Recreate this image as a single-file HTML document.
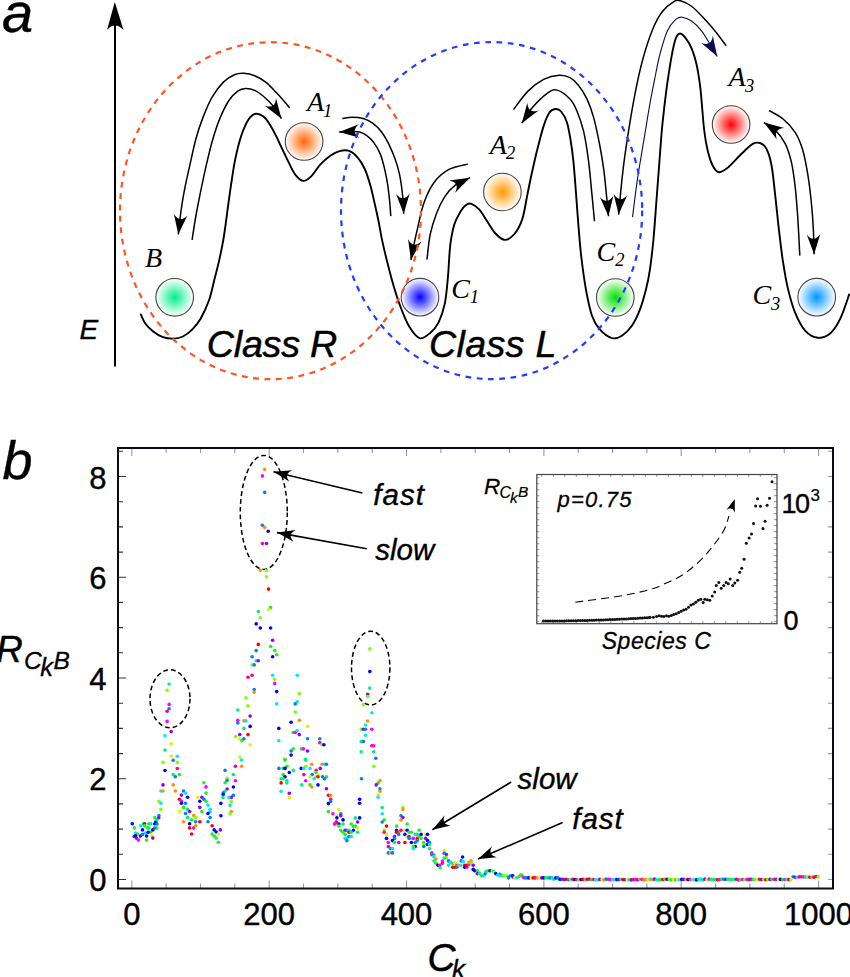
<!DOCTYPE html>
<html><head><meta charset="utf-8"><style>
html,body{margin:0;padding:0;background:#fff;width:850px;height:977px;overflow:hidden;position:relative}
</style></head><body>
<svg width="850" height="977" viewBox="0 0 850 977" style="position:absolute;left:0;top:0">
<defs>
<radialGradient id="gB"><stop offset="0" stop-color="#00f08a"/><stop offset="1" stop-color="#00f08a" stop-opacity="0"/></radialGradient>
<radialGradient id="gA1"><stop offset="0" stop-color="#ff6600"/><stop offset="1" stop-color="#ff6600" stop-opacity="0"/></radialGradient>
<radialGradient id="gC1"><stop offset="0" stop-color="#0000ff"/><stop offset="1" stop-color="#0000ff" stop-opacity="0"/></radialGradient>
<radialGradient id="gA2"><stop offset="0" stop-color="#ff9900"/><stop offset="1" stop-color="#ff9900" stop-opacity="0"/></radialGradient>
<radialGradient id="gC2"><stop offset="0" stop-color="#00e000"/><stop offset="1" stop-color="#00e000" stop-opacity="0"/></radialGradient>
<radialGradient id="gA3"><stop offset="0" stop-color="#ff0000"/><stop offset="1" stop-color="#ff0000" stop-opacity="0"/></radialGradient>
<radialGradient id="gC3"><stop offset="0" stop-color="#0096ff"/><stop offset="1" stop-color="#0096ff" stop-opacity="0"/></radialGradient>
</defs>
<line x1="115" y1="366.5" x2="115" y2="22" stroke="#000" stroke-width="2"/>
<path d="M114.8,1.9 L123.5,29.9 Q114.8,21 107,29.9 Z" fill="#000"/>
<path d="M140.8,314.4 C141.6,315.9 143.2,320.6 145.3,323.5 C147.4,326.4 150.6,329.5 153.5,331.8 C156.4,334.1 159.6,336.0 162.9,337.1 C166.2,338.2 170.2,338.7 173.5,338.6 C176.8,338.5 179.8,338.0 182.9,336.5 C186.1,335.0 189.5,332.3 192.4,329.4 C195.3,326.4 197.8,323.7 200.6,318.8 C203.4,313.9 206.8,306.6 209.2,299.8 C211.5,293.1 213.0,285.0 214.7,278.3 C216.4,271.6 217.9,266.2 219.3,259.9 C220.7,253.6 222.1,246.6 223.2,240.5 C224.3,234.4 224.9,229.4 225.8,223.1 C226.7,216.8 227.6,209.1 228.5,202.8 C229.4,196.5 229.9,192.4 231.0,185.2 C232.1,178.0 233.5,167.5 235.2,159.4 C236.9,151.3 238.8,143.2 241.0,136.5 C243.2,129.8 246.0,123.3 248.5,119.5 C251.0,115.7 253.3,114.3 255.8,113.8 C258.3,113.3 261.2,114.8 263.5,116.6 C265.8,118.4 267.7,121.3 269.8,124.6 C271.9,127.9 274.1,132.0 276.2,136.2 C278.3,140.3 280.3,145.0 282.5,149.5 C284.7,154.0 287.0,159.1 289.2,163.4 C291.4,167.7 293.2,172.2 295.6,175.1 C298.0,178.0 300.8,180.7 303.4,180.9 C306.0,181.1 308.4,179.1 311.2,176.4 C314.0,173.7 317.0,168.2 320.2,164.7 C323.4,161.2 327.4,157.9 330.6,155.6 C333.8,153.3 336.6,151.9 339.6,151.1 C342.6,150.3 345.4,149.7 348.4,150.7 C351.4,151.7 354.8,154.2 357.5,157.3 C360.2,160.4 362.7,164.3 364.8,169.0 C366.9,173.7 368.7,179.6 370.4,185.6 C372.1,191.6 373.6,198.9 375.0,205.0 C376.4,211.1 377.5,216.1 378.7,222.0 C379.9,227.9 380.6,233.3 382.2,240.6 C383.8,247.9 386.1,257.8 388.2,265.8 C390.2,273.9 392.4,281.9 394.5,288.9 C396.6,295.9 398.4,301.4 400.8,307.7 C403.2,314.0 406.1,321.5 409.2,326.6 C412.3,331.7 416.2,337.1 419.7,338.2 C423.2,339.2 427.0,335.5 430.2,332.9 C433.4,330.3 436.2,327.3 438.6,322.4 C441.0,317.5 443.2,311.3 444.8,303.6 C446.4,295.9 447.1,286.1 448.0,276.3 C448.9,266.5 449.2,253.4 450.3,244.8 C451.4,236.2 452.6,230.1 454.3,224.5 C456.0,218.9 458.6,214.8 460.5,211.5 C462.4,208.2 464.2,206.3 466.0,205.0 C467.8,203.7 469.3,203.0 471.5,203.8 C473.7,204.6 476.8,206.8 479.4,209.7 C482.0,212.6 484.6,217.5 487.2,221.4 C489.8,225.3 492.1,229.9 495.0,233.0 C497.9,236.1 501.5,239.7 504.7,239.9 C507.9,240.1 511.5,237.4 514.4,234.0 C517.3,230.6 520.1,225.7 522.2,219.4 C524.3,213.1 525.5,203.9 527.1,196.1 C528.7,188.3 530.1,180.9 531.9,172.8 C533.7,164.7 535.8,155.3 537.8,147.5 C539.8,139.7 541.7,131.9 543.6,126.1 C545.5,120.3 547.5,115.3 549.4,112.5 C551.3,109.7 553.3,109.2 555.3,109.0 C557.2,108.8 559.2,109.3 561.1,111.5 C563.0,113.7 565.4,117.6 566.9,122.2 C568.4,126.8 569.3,132.5 570.4,139.0 C571.5,145.5 572.5,152.6 573.4,161.4 C574.3,170.2 575.1,181.2 575.9,191.8 C576.7,202.4 577.5,214.1 578.4,225.0 C579.3,235.9 580.0,246.2 581.3,257.0 C582.6,267.8 584.2,280.0 586.0,289.8 C587.8,299.6 589.7,309.1 592.0,315.7 C594.3,322.3 596.7,326.0 600.0,329.7 C603.3,333.4 608.2,337.1 611.9,338.1 C615.5,339.1 618.6,337.8 621.9,335.7 C625.2,333.6 628.9,330.0 631.9,325.7 C634.9,321.4 637.6,315.7 639.9,309.7 C642.2,303.7 644.2,296.4 645.9,289.8 C647.6,283.2 648.6,278.1 649.9,269.8 C651.1,261.5 652.3,251.6 653.4,240.0 C654.5,228.4 655.6,211.7 656.5,200.0 C657.4,188.3 657.9,181.2 658.8,170.0 C659.6,158.8 660.7,143.6 661.6,133.0 C662.5,122.4 663.4,114.9 664.4,106.4 C665.4,97.9 666.3,90.1 667.5,81.9 C668.7,73.7 670.1,64.4 671.4,57.3 C672.7,50.2 674.1,43.2 675.5,39.3 C676.9,35.3 678.0,33.9 679.6,33.6 C681.2,33.3 683.2,35.1 685.3,37.7 C687.3,40.3 690.0,44.5 691.9,49.1 C693.8,53.7 695.4,59.5 696.8,65.5 C698.1,71.5 699.1,78.5 700.0,85.1 C700.9,91.6 701.2,97.1 701.9,104.8 C702.6,112.5 703.3,123.4 704.3,131.0 C705.2,138.6 706.2,144.5 707.6,150.2 C709.0,155.9 710.6,161.5 712.5,165.2 C714.4,168.9 716.3,171.8 718.8,172.2 C721.3,172.6 724.0,170.5 727.6,167.7 C731.2,164.9 735.9,159.2 740.1,155.2 C744.3,151.2 749.4,145.9 752.7,143.9 C756.1,141.9 757.9,142.3 760.2,143.1 C762.5,143.9 764.6,145.2 766.5,148.9 C768.4,152.6 770.0,157.5 771.5,165.2 C773.0,172.9 774.0,184.4 775.2,195.3 C776.5,206.2 777.7,219.5 779.0,230.4 C780.3,241.3 781.3,250.9 782.8,260.5 C784.3,270.1 785.7,279.3 787.8,288.1 C789.9,296.9 792.4,306.1 795.3,313.2 C798.2,320.3 801.5,326.7 805.3,330.8 C809.1,334.9 813.7,337.4 817.9,337.8 C822.1,338.2 826.6,336.6 830.4,333.3 C834.2,330.0 837.4,324.7 840.5,318.2 C843.6,311.7 847.8,298.4 849.2,294.4" fill="none" stroke="#000" stroke-width="1.9" stroke-linecap="round"/>
<path d="M178.3,234.5 C178.8,230.6 179.9,218.6 181.0,211.0 C182.1,203.4 183.1,196.9 184.7,188.9 C186.2,180.9 188.5,171.4 190.3,163.1 C192.2,154.8 193.7,146.9 195.8,139.2 C197.9,131.5 200.3,124.2 203.1,117.1 C205.8,110.0 208.9,102.6 212.3,96.8 C215.7,91.0 219.7,85.8 223.4,82.1 C227.1,78.4 231.0,76.2 234.4,74.7 C237.8,73.2 240.3,73.1 243.7,73.3 C247.1,73.5 251.0,74.2 254.7,75.7 C258.4,77.2 262.0,79.2 265.7,82.1 C269.4,85.0 272.8,88.8 276.8,93.1 C280.8,97.4 287.6,105.4 289.7,107.9" fill="none" stroke="#000" stroke-width="1.5"/><path d="M0,0 L-20.0,-6.8 Q-11.0,0 -20.0,6.8 Z" fill="#000" transform="translate(178.3,234.5) rotate(96.6)"/>
<path d="M192.1,239.9 C192.7,236.0 194.4,224.4 195.8,216.5 C197.2,208.6 198.7,200.9 200.4,192.6 C202.1,184.3 203.9,175.4 205.9,166.8 C207.9,158.2 210.0,149.0 212.3,141.0 C214.6,133.0 216.9,125.7 219.7,118.9 C222.5,112.2 225.8,105.2 228.9,100.5 C232.0,95.8 235.3,92.9 238.1,90.9 C240.9,88.9 242.7,88.6 245.5,88.5 C248.3,88.4 251.6,89.0 254.7,90.4 C257.8,91.8 260.8,94.2 263.9,96.8 C267.0,99.4 270.2,102.4 273.1,106.0 C276.0,109.6 280.0,116.5 281.4,118.6" fill="none" stroke="#000" stroke-width="1.5"/><path d="M0,0 L-20.0,-6.8 Q-11.0,0 -20.0,6.8 Z" fill="#000" transform="translate(281.4,118.6) rotate(56.6)"/>
<path d="M342.3,118.5 C343.9,118.3 348.6,117.3 352.1,117.3 C355.6,117.3 359.7,117.5 363.2,118.5 C366.7,119.5 369.9,121.2 373.0,123.4 C376.1,125.7 379.0,128.5 381.6,132.0 C384.2,135.5 386.6,139.8 388.9,144.3 C391.1,148.8 393.4,154.1 395.1,159.0 C396.9,163.9 398.3,168.9 399.4,173.8 C400.5,178.7 401.2,183.8 401.8,188.5 C402.4,193.2 402.9,197.8 403.2,202.0 C403.5,206.2 403.6,211.8 403.7,213.7" fill="none" stroke="#000" stroke-width="1.5"/><path d="M0,0 L-20.0,-6.8 Q-11.0,0 -20.0,6.8 Z" fill="#000" transform="translate(403.7,213.7) rotate(87.6)"/>
<path d="M339.2,132.0 C341.0,131.9 346.6,131.5 350.0,131.5 C353.4,131.5 356.7,131.3 359.5,132.0 C362.3,132.7 364.4,133.8 366.8,135.7 C369.2,137.5 371.9,140.0 374.2,143.1 C376.4,146.2 378.6,149.8 380.3,154.1 C382.0,158.4 383.4,163.8 384.6,168.9 C385.8,174.0 386.9,179.5 387.7,184.8 C388.5,190.1 389.1,195.6 389.6,200.8 C390.1,206.0 390.6,213.6 390.8,216.1" fill="none" stroke="#000" stroke-width="1.5"/><path d="M0,0 L-20.0,-6.8 Q-11.0,0 -20.0,6.8 Z" fill="#000" transform="translate(339.2,132.0) rotate(177.3)"/>
<path d="M467.9,164.1 C464.8,165.0 454.6,166.4 449.0,169.4 C443.4,172.4 438.6,176.4 434.4,182.0 C430.2,187.6 426.7,195.2 423.9,202.9 C421.1,210.6 419.4,220.8 417.6,228.1 C415.9,235.4 414.5,241.7 413.4,247.0 C412.3,252.3 411.3,257.8 410.9,259.9" fill="none" stroke="#000" stroke-width="1.5"/><path d="M0,0 L-20.0,-6.8 Q-11.0,0 -20.0,6.8 Z" fill="#000" transform="translate(410.9,259.9) rotate(101.0)"/>
<path d="M427.0,259.5 C427.5,255.3 428.6,242.1 430.2,234.4 C431.8,226.7 434.1,219.7 436.5,213.4 C438.9,207.1 441.7,201.3 444.8,196.6 C447.9,191.9 451.1,188.2 455.3,185.1 C459.5,181.9 467.6,178.9 470.0,177.7" fill="none" stroke="#000" stroke-width="1.5"/><path d="M0,0 L-20.0,-6.8 Q-11.0,0 -20.0,6.8 Z" fill="#000" transform="translate(470.0,177.7) rotate(-26.7)"/>
<path d="M513.5,109.6 C515.9,106.5 523.0,96.1 528.0,91.1 C533.0,86.1 538.4,82.1 543.6,79.4 C548.8,76.8 554.8,75.5 559.2,75.2 C563.6,74.9 566.8,76.0 570.0,77.7 C573.2,79.4 575.6,81.8 578.4,85.3 C581.2,88.8 584.4,93.6 586.9,98.9 C589.4,104.2 591.5,109.8 593.6,117.4 C595.7,125.0 597.9,135.8 599.6,144.5 C601.3,153.2 602.7,161.7 603.8,169.8 C604.9,178.0 605.5,185.7 606.3,193.4 C607.1,201.2 608.1,212.5 608.5,216.3" fill="none" stroke="#000" stroke-width="1.5"/><path d="M0,0 L-20.0,-6.8 Q-11.0,0 -20.0,6.8 Z" fill="#000" transform="translate(608.5,216.3) rotate(84.5)"/>
<path d="M521.8,123.2 C523.5,120.7 527.7,113.0 532.0,108.0 C536.3,103.0 543.3,96.1 547.5,93.1 C551.7,90.1 553.5,89.1 557.2,90.1 C561.0,91.1 566.7,95.5 570.0,98.9 C573.3,102.3 574.5,105.4 576.8,110.7 C579.0,116.0 581.5,122.5 583.5,130.9 C585.5,139.3 587.2,150.7 588.6,161.4 C590.0,172.1 591.0,185.1 592.0,195.1 C593.0,205.1 594.1,216.9 594.5,221.3" fill="none" stroke="#000" stroke-width="1.5"/><path d="M0,0 L-20.0,-6.8 Q-11.0,0 -20.0,6.8 Z" fill="#000" transform="translate(521.8,123.2) rotate(123.9)"/>
<path d="M618.6,214.6 C619.0,210.8 619.8,200.7 620.7,191.8 C621.6,182.9 622.7,172.1 624.1,161.4 C625.5,150.7 627.3,138.9 629.1,127.6 C630.9,116.3 632.8,105.1 635.0,93.8 C637.2,82.5 639.7,70.7 642.6,60.0 C645.5,49.3 649.3,37.6 652.6,29.5 C655.9,21.4 658.9,16.1 662.4,11.5 C665.9,6.9 670.9,3.4 673.9,1.6 C676.9,-0.2 677.4,-0.0 680.4,0.8 C683.4,1.6 687.8,3.4 691.9,6.5 C696.0,9.6 700.9,15.2 705.0,19.6 C709.1,24.0 712.9,28.3 716.4,32.7 C719.9,37.1 724.6,43.6 726.2,45.8" fill="none" stroke="#000" stroke-width="1.5"/><path d="M0,0 L-20.0,-6.8 Q-11.0,0 -20.0,6.8 Z" fill="#000" transform="translate(618.6,214.6) rotate(95.3)"/>
<path d="M632.5,217.1 C633.4,210.6 635.6,191.4 637.6,178.2 C639.6,165.0 642.2,150.4 644.3,137.7 C646.4,125.0 648.3,112.7 650.2,102.2 C652.1,91.8 653.9,83.0 655.5,75.0 C657.1,67.0 658.0,61.3 660.0,54.0 C662.0,46.7 664.7,36.8 667.3,31.1 C669.9,25.4 673.0,21.9 675.5,19.6 C678.0,17.3 679.3,16.9 682.0,17.2 C684.7,17.5 688.6,19.0 691.9,21.3 C695.2,23.6 698.7,27.3 701.7,31.1 C704.7,34.9 707.3,40.0 709.9,44.2 C712.5,48.4 716.0,54.5 717.2,56.5" fill="none" stroke="#0b0b50" stroke-width="1.1"/><path d="M0,0 L-20.0,-6.8 Q-11.0,0 -20.0,6.8 Z" fill="#0b0b50" transform="translate(717.2,56.5) rotate(59.3)"/>
<path d="M769.0,110.5 C771.3,111.9 778.4,115.1 782.8,118.8 C787.2,122.5 792.0,127.4 795.3,132.6 C798.6,137.8 800.7,143.1 802.8,150.2 C804.9,157.3 806.4,166.0 807.9,175.2 C809.4,184.4 810.7,196.1 811.6,205.3 C812.5,214.5 813.0,222.2 813.4,230.4 C813.8,238.6 814.0,250.3 814.1,254.3" fill="none" stroke="#000" stroke-width="1.5"/><path d="M0,0 L-20.0,-6.8 Q-11.0,0 -20.0,6.8 Z" fill="#000" transform="translate(814.1,254.3) rotate(88.3)"/>
<path d="M764.0,122.6 C765.9,123.8 771.7,126.5 775.2,130.1 C778.8,133.7 782.6,138.5 785.3,143.9 C788.0,149.3 789.8,155.4 791.5,162.7 C793.2,170.0 794.2,178.6 795.3,187.8 C796.3,197.0 797.0,206.6 797.8,217.9 C798.5,229.2 799.5,249.2 799.8,255.5" fill="none" stroke="#000" stroke-width="1.5"/><path d="M0,0 L-20.0,-6.8 Q-11.0,0 -20.0,6.8 Z" fill="#000" transform="translate(764.0,122.6) rotate(-146.2)"/>
<circle cx="174.7" cy="297.3" r="18.8" fill="#fff"/>
<circle cx="174.7" cy="297.3" r="18.8" fill="url(#gB)" stroke="#444" stroke-width="1.1"/>
<circle cx="304.1" cy="141.5" r="18.8" fill="#fff"/>
<circle cx="304.1" cy="141.5" r="18.8" fill="url(#gA1)" stroke="#444" stroke-width="1.1"/>
<circle cx="420.0" cy="297.2" r="18.8" fill="#fff"/>
<circle cx="420.0" cy="297.2" r="18.8" fill="url(#gC1)" stroke="#444" stroke-width="1.1"/>
<circle cx="502.4" cy="192.0" r="18.8" fill="#fff"/>
<circle cx="502.4" cy="192.0" r="18.8" fill="url(#gA2)" stroke="#444" stroke-width="1.1"/>
<circle cx="615.3" cy="297.5" r="18.8" fill="#fff"/>
<circle cx="615.3" cy="297.5" r="18.8" fill="url(#gC2)" stroke="#444" stroke-width="1.1"/>
<circle cx="731.1" cy="124.5" r="18.8" fill="#fff"/>
<circle cx="731.1" cy="124.5" r="18.8" fill="url(#gA3)" stroke="#444" stroke-width="1.1"/>
<circle cx="816.7" cy="297.2" r="18.8" fill="#fff"/>
<circle cx="816.7" cy="297.2" r="18.8" fill="url(#gC3)" stroke="#444" stroke-width="1.1"/>
<ellipse cx="270.5" cy="210.7" rx="150.5" ry="168.5" fill="none" stroke="#ff5522" stroke-width="2.2" stroke-dasharray="5.9,5.5"/>
<ellipse cx="491.6" cy="210.6" rx="150.6" ry="168.5" fill="none" stroke="#1f3cff" stroke-width="2.2" stroke-dasharray="5.7,5.6"/>
<text x="144.9" y="266.8" font-family="Liberation Serif" font-style="italic" font-size="28.0">B</text>
<text x="307.1" y="110.9" font-family="Liberation Serif" font-style="italic" font-size="28.0">A</text>
<text x="451.2" y="297.7" font-family="Liberation Serif" font-style="italic" font-size="28.0">C</text>
<text x="489.7" y="153.9" font-family="Liberation Serif" font-style="italic" font-size="28.0">A</text>
<text x="596.6" y="260.8" font-family="Liberation Serif" font-style="italic" font-size="28.0">C</text>
<text x="728.6" y="86.1" font-family="Liberation Serif" font-style="italic" font-size="28.0">A</text>
<text x="752.4" y="304.3" font-family="Liberation Serif" font-style="italic" font-size="28.0">C</text>
<text x="323.1" y="116.7" font-family="Liberation Serif" font-style="italic" font-size="18.5">1</text>
<text x="469.8" y="302.9" font-family="Liberation Serif" font-style="italic" font-size="18.5">1</text>
<text x="505.9" y="158.8" font-family="Liberation Serif" font-style="italic" font-size="18.5">2</text>
<text x="615.3" y="265.7" font-family="Liberation Serif" font-style="italic" font-size="18.5">2</text>
<text x="745.1" y="91.7" font-family="Liberation Serif" font-style="italic" font-size="18.5">3</text>
<text x="771.1" y="309.5" font-family="Liberation Serif" font-style="italic" font-size="18.5">3</text>
<text stroke="#000" stroke-width="0.35" x="2" y="32.3" font-family="Liberation Sans" font-style="italic" font-size="56">a</text>
<text stroke="#000" stroke-width="0.36" x="79.5" y="339" font-family="Liberation Sans" font-style="italic" font-size="28">E</text>
<text stroke="#000" stroke-width="0.49" x="206.8" y="357" font-family="Liberation Sans" font-style="italic" font-size="37.7" letter-spacing="-0.25">Class R</text>
<text stroke="#000" stroke-width="0.49" x="429" y="357" font-family="Liberation Sans" font-style="italic" font-size="37.7" letter-spacing="0.3">Class L</text>
<text stroke="#000" stroke-width="0.35" x="2.5" y="479.4" font-family="Liberation Sans" font-style="italic" font-size="54">b</text>
<path d="M131.8,888.5v-8 M131.8,448.0v8 M166.1,888.5v-5 M166.1,448.0v5 M200.5,888.5v-5 M200.5,448.0v5 M234.8,888.5v-5 M234.8,448.0v5 M269.2,888.5v-8 M269.2,448.0v8 M303.5,888.5v-5 M303.5,448.0v5 M337.8,888.5v-5 M337.8,448.0v5 M372.2,888.5v-5 M372.2,448.0v5 M406.5,888.5v-8 M406.5,448.0v8 M440.9,888.5v-5 M440.9,448.0v5 M475.2,888.5v-5 M475.2,448.0v5 M509.5,888.5v-5 M509.5,448.0v5 M543.9,888.5v-8 M543.9,448.0v8 M578.2,888.5v-5 M578.2,448.0v5 M612.6,888.5v-5 M612.6,448.0v5 M646.9,888.5v-5 M646.9,448.0v5 M681.2,888.5v-8 M681.2,448.0v8 M715.6,888.5v-5 M715.6,448.0v5 M749.9,888.5v-5 M749.9,448.0v5 M784.3,888.5v-5 M784.3,448.0v5 M818.6,888.5v-8 M818.6,448.0v8 M833.0,879.5h-5 M833.0,854.3h-5 M833.0,829.1h-5 M833.0,803.9h-5 M833.0,778.8h-5 M833.0,753.6h-5 M833.0,728.4h-5 M833.0,703.2h-5 M833.0,678.0h-5 M833.0,652.8h-5 M833.0,627.6h-5 M833.0,602.4h-5 M833.0,577.2h-5 M833.0,552.1h-5 M833.0,526.9h-5 M833.0,501.7h-5 M833.0,476.5h-5 M833.0,451.3h-5" stroke="#999" stroke-width="1.1" fill="none"/>
<path d="M118.0,879.5h8 M118.0,854.3h5 M118.0,829.1h5 M118.0,803.9h5 M118.0,778.8h8 M118.0,753.6h5 M118.0,728.4h5 M118.0,703.2h5 M118.0,678.0h8 M118.0,652.8h5 M118.0,627.6h5 M118.0,602.4h5 M118.0,577.2h8 M118.0,552.1h5 M118.0,526.9h5 M118.0,501.7h5 M118.0,476.5h8 M118.0,451.3h5" stroke="#333" stroke-width="1.1" fill="none"/>
<rect x="118.0" y="448.0" width="715.0" height="440.5" fill="none" stroke="#0a0a14" stroke-width="2"/>
<text stroke="#000" stroke-width="0.40" x="89.3" y="890.5" font-family="Liberation Sans" font-size="31">0</text>
<text stroke="#000" stroke-width="0.40" x="89.3" y="790.0" font-family="Liberation Sans" font-size="31">2</text>
<text stroke="#000" stroke-width="0.40" x="89.3" y="689.5" font-family="Liberation Sans" font-size="31">4</text>
<text stroke="#000" stroke-width="0.40" x="89.3" y="589.0" font-family="Liberation Sans" font-size="31">6</text>
<text stroke="#000" stroke-width="0.40" x="89.3" y="488.5" font-family="Liberation Sans" font-size="31">8</text>
<text stroke="#000" stroke-width="0.40" x="131.8" y="925.3" font-family="Liberation Sans" font-size="31" text-anchor="middle">0</text>
<text stroke="#000" stroke-width="0.40" x="269.2" y="925.3" font-family="Liberation Sans" font-size="31" text-anchor="middle">200</text>
<text stroke="#000" stroke-width="0.40" x="406.5" y="925.3" font-family="Liberation Sans" font-size="31" text-anchor="middle">400</text>
<text stroke="#000" stroke-width="0.40" x="543.9" y="925.3" font-family="Liberation Sans" font-size="31" text-anchor="middle">600</text>
<text stroke="#000" stroke-width="0.40" x="681.2" y="925.3" font-family="Liberation Sans" font-size="31" text-anchor="middle">800</text>
<text stroke="#000" stroke-width="0.40" x="818.6" y="925.3" font-family="Liberation Sans" font-size="31" text-anchor="middle">1000</text>
<text stroke="#000" stroke-width="0.50" x="427.6" y="971.4" font-family="Liberation Sans" font-style="italic" font-size="38.8">C</text>
<text stroke="#000" stroke-width="0.34" x="452" y="978" font-family="Liberation Sans" font-style="italic" font-size="26">k</text>
<text stroke="#000" stroke-width="0.48" x="-4" y="662.3" font-family="Liberation Sans" font-style="italic" font-size="37">R</text>
<text stroke="#000" stroke-width="0.32" x="24" y="668.8" font-family="Liberation Sans" font-style="italic" font-size="24.5">C</text>
<text stroke="#000" stroke-width="0.33" x="40.3" y="676" font-family="Liberation Sans" font-style="italic" font-size="25.5">k</text>
<text stroke="#000" stroke-width="0.32" x="53.5" y="669.3" font-family="Liberation Sans" font-style="italic" font-size="24.5">B</text>
<ellipse cx="263.8" cy="512.4" rx="23.5" ry="57" fill="none" stroke="#000" stroke-width="1.5" stroke-dasharray="4.8,3"/>
<ellipse cx="170" cy="698.8" rx="20" ry="29" fill="none" stroke="#000" stroke-width="1.5" stroke-dasharray="4.8,3"/>
<ellipse cx="370.7" cy="668.1" rx="19.2" ry="36.9" fill="none" stroke="#000" stroke-width="1.5" stroke-dasharray="4.8,3"/>
<circle cx="132.3" cy="823.8" r="1.8" fill="#0000ff"/>
<circle cx="134.3" cy="827.9" r="1.8" fill="#20f020"/>
<circle cx="135.4" cy="833.0" r="1.8" fill="#00e8ff"/>
<circle cx="136.4" cy="838.1" r="1.8" fill="#9000ff"/>
<circle cx="138.4" cy="840.1" r="1.8" fill="#ff00ff"/>
<circle cx="137.4" cy="834.0" r="1.8" fill="#20f020"/>
<circle cx="140.5" cy="825.8" r="1.8" fill="#00e8ff"/>
<circle cx="140.5" cy="836.0" r="1.8" fill="#0000ff"/>
<circle cx="142.5" cy="829.9" r="1.8" fill="#0000ff"/>
<circle cx="143.5" cy="823.8" r="1.8" fill="#00f080"/>
<circle cx="144.6" cy="823.8" r="1.8" fill="#ff0000"/>
<circle cx="145.6" cy="833.0" r="1.8" fill="#00e8ff"/>
<circle cx="146.6" cy="840.1" r="1.8" fill="#20f020"/>
<circle cx="146.6" cy="836.0" r="1.8" fill="#0000ff"/>
<circle cx="147.6" cy="827.9" r="1.8" fill="#00f080"/>
<circle cx="148.7" cy="823.8" r="1.8" fill="#00f080"/>
<circle cx="150.7" cy="823.8" r="1.8" fill="#00f080"/>
<circle cx="150.7" cy="832.0" r="1.8" fill="#20f020"/>
<circle cx="151.7" cy="836.0" r="1.8" fill="#e8f000"/>
<circle cx="152.8" cy="838.1" r="1.8" fill="#9000ff"/>
<circle cx="152.8" cy="829.9" r="1.8" fill="#0000ff"/>
<circle cx="154.8" cy="823.8" r="1.8" fill="#0000ff"/>
<circle cx="155.8" cy="821.7" r="1.8" fill="#0000ff"/>
<circle cx="156.8" cy="827.9" r="1.8" fill="#20f020"/>
<circle cx="154.8" cy="817.6" r="1.8" fill="#20f020"/>
<circle cx="156.8" cy="819.7" r="1.8" fill="#00f080"/>
<circle cx="158.9" cy="815.6" r="1.8" fill="#0080ff"/>
<circle cx="158.9" cy="801.2" r="1.8" fill="#80ff00"/>
<circle cx="160.9" cy="803.3" r="1.8" fill="#00e8ff"/>
<circle cx="160.9" cy="809.4" r="1.8" fill="#80ff00"/>
<circle cx="160.9" cy="791.0" r="1.8" fill="#00e8ff"/>
<circle cx="163.0" cy="791.0" r="1.8" fill="#ff9000"/>
<circle cx="163.0" cy="784.9" r="1.8" fill="#9000ff"/>
<circle cx="165.0" cy="770.5" r="1.8" fill="#0000ff"/>
<circle cx="163.0" cy="762.4" r="1.8" fill="#80ff00"/>
<circle cx="165.0" cy="750.1" r="1.8" fill="#00f080"/>
<circle cx="165.0" cy="735.7" r="1.8" fill="#00e8ff"/>
<circle cx="171.2" cy="731.6" r="1.8" fill="#9000ff"/>
<circle cx="167.1" cy="721.4" r="1.8" fill="#ff00ff"/>
<circle cx="167.1" cy="711.2" r="1.8" fill="#ff0090"/>
<circle cx="169.1" cy="708.7" r="1.8" fill="#0080ff"/>
<circle cx="169.1" cy="704.4" r="1.8" fill="#ff00ff"/>
<circle cx="167.1" cy="690.3" r="1.8" fill="#80ff00"/>
<circle cx="169.1" cy="684.0" r="1.8" fill="#00f080"/>
<circle cx="171.2" cy="743.9" r="1.8" fill="#e8f000"/>
<circle cx="171.2" cy="756.2" r="1.8" fill="#e8f000"/>
<circle cx="173.2" cy="760.3" r="1.8" fill="#0080ff"/>
<circle cx="177.3" cy="756.2" r="1.8" fill="#00e8ff"/>
<circle cx="177.3" cy="762.4" r="1.8" fill="#80ff00"/>
<circle cx="177.3" cy="768.5" r="1.8" fill="#ff0090"/>
<circle cx="173.2" cy="774.6" r="1.8" fill="#00f080"/>
<circle cx="175.3" cy="776.7" r="1.8" fill="#0080ff"/>
<circle cx="179.4" cy="774.6" r="1.8" fill="#20f020"/>
<circle cx="173.2" cy="784.9" r="1.8" fill="#ff9000"/>
<circle cx="175.3" cy="791.0" r="1.8" fill="#ff9000"/>
<circle cx="179.4" cy="799.2" r="1.8" fill="#ff0000"/>
<circle cx="181.4" cy="795.1" r="1.8" fill="#9000ff"/>
<circle cx="181.4" cy="801.2" r="1.8" fill="#ff00ff"/>
<circle cx="183.5" cy="791.0" r="1.8" fill="#0080ff"/>
<circle cx="185.5" cy="793.1" r="1.8" fill="#00e8ff"/>
<circle cx="187.6" cy="797.2" r="1.8" fill="#0000ff"/>
<circle cx="183.5" cy="807.4" r="1.8" fill="#20f020"/>
<circle cx="181.4" cy="803.3" r="1.8" fill="#0000ff"/>
<circle cx="185.5" cy="803.3" r="1.8" fill="#0080ff"/>
<circle cx="179.4" cy="811.5" r="1.8" fill="#e8f000"/>
<circle cx="185.5" cy="813.5" r="1.8" fill="#0080ff"/>
<circle cx="187.6" cy="809.4" r="1.8" fill="#00f080"/>
<circle cx="189.6" cy="811.5" r="1.8" fill="#9000ff"/>
<circle cx="187.6" cy="817.6" r="1.8" fill="#00f080"/>
<circle cx="191.6" cy="819.7" r="1.8" fill="#20f020"/>
<circle cx="189.6" cy="823.8" r="1.8" fill="#0000ff"/>
<circle cx="189.6" cy="827.9" r="1.8" fill="#ff0000"/>
<circle cx="191.6" cy="834.0" r="1.8" fill="#ff0000"/>
<circle cx="193.7" cy="827.9" r="1.8" fill="#ff00ff"/>
<circle cx="183.5" cy="821.7" r="1.8" fill="#ff9000"/>
<circle cx="195.7" cy="821.7" r="1.8" fill="#0080ff"/>
<circle cx="195.7" cy="825.8" r="1.8" fill="#ff9000"/>
<circle cx="193.7" cy="815.6" r="1.8" fill="#ff9000"/>
<circle cx="195.7" cy="817.6" r="1.8" fill="#80ff00"/>
<circle cx="199.8" cy="821.7" r="1.8" fill="#ff0000"/>
<circle cx="197.8" cy="797.2" r="1.8" fill="#e8f000"/>
<circle cx="199.8" cy="801.2" r="1.8" fill="#0000ff"/>
<circle cx="199.8" cy="807.4" r="1.8" fill="#9000ff"/>
<circle cx="201.9" cy="797.2" r="1.8" fill="#9000ff"/>
<circle cx="201.9" cy="811.5" r="1.8" fill="#20f020"/>
<circle cx="203.9" cy="782.8" r="1.8" fill="#20f020"/>
<circle cx="203.9" cy="799.2" r="1.8" fill="#0080ff"/>
<circle cx="206.0" cy="786.9" r="1.8" fill="#ff00ff"/>
<circle cx="206.0" cy="793.1" r="1.8" fill="#20f020"/>
<circle cx="206.0" cy="801.2" r="1.8" fill="#20f020"/>
<circle cx="208.0" cy="805.3" r="1.8" fill="#00e8ff"/>
<circle cx="210.1" cy="809.4" r="1.8" fill="#00e8ff"/>
<circle cx="210.1" cy="811.5" r="1.8" fill="#00e8ff"/>
<circle cx="208.0" cy="813.5" r="1.8" fill="#0000ff"/>
<circle cx="210.1" cy="817.6" r="1.8" fill="#0080ff"/>
<circle cx="208.0" cy="821.7" r="1.8" fill="#0080ff"/>
<circle cx="212.1" cy="825.8" r="1.8" fill="#ff0000"/>
<circle cx="214.2" cy="829.9" r="1.8" fill="#0000ff"/>
<circle cx="216.2" cy="832.0" r="1.8" fill="#0000ff"/>
<circle cx="212.1" cy="834.0" r="1.8" fill="#20f020"/>
<circle cx="214.2" cy="836.0" r="1.8" fill="#20f020"/>
<circle cx="218.3" cy="834.0" r="1.8" fill="#e8f000"/>
<circle cx="216.2" cy="838.1" r="1.8" fill="#00f080"/>
<circle cx="218.3" cy="842.2" r="1.8" fill="#20f020"/>
<circle cx="220.3" cy="829.9" r="1.8" fill="#9000ff"/>
<circle cx="260.3" cy="570.2" r="1.8" fill="#ff9000"/>
<circle cx="266.5" cy="570.2" r="1.8" fill="#80ff00"/>
<circle cx="266.5" cy="576.8" r="1.8" fill="#80ff00"/>
<circle cx="268.5" cy="589.1" r="1.8" fill="#ff0000"/>
<circle cx="270.6" cy="607.5" r="1.8" fill="#20f020"/>
<circle cx="268.5" cy="609.6" r="1.8" fill="#e8f000"/>
<circle cx="258.3" cy="611.6" r="1.8" fill="#00f080"/>
<circle cx="260.3" cy="617.8" r="1.8" fill="#80ff00"/>
<circle cx="256.2" cy="623.9" r="1.8" fill="#0000ff"/>
<circle cx="260.3" cy="628.0" r="1.8" fill="#0000ff"/>
<circle cx="270.6" cy="628.0" r="1.8" fill="#0000ff"/>
<circle cx="272.6" cy="640.3" r="1.8" fill="#9000ff"/>
<circle cx="258.3" cy="644.4" r="1.8" fill="#ff0000"/>
<circle cx="270.6" cy="646.5" r="1.8" fill="#20f020"/>
<circle cx="274.7" cy="650.6" r="1.8" fill="#20f020"/>
<circle cx="276.7" cy="654.7" r="1.8" fill="#20f020"/>
<circle cx="256.2" cy="650.6" r="1.8" fill="#0080ff"/>
<circle cx="252.1" cy="656.7" r="1.8" fill="#0080ff"/>
<circle cx="272.6" cy="656.7" r="1.8" fill="#0000ff"/>
<circle cx="256.2" cy="660.8" r="1.8" fill="#00e8ff"/>
<circle cx="258.3" cy="660.8" r="1.8" fill="#9000ff"/>
<circle cx="252.1" cy="664.9" r="1.8" fill="#80ff00"/>
<circle cx="254.2" cy="664.9" r="1.8" fill="#0080ff"/>
<circle cx="248.0" cy="677.2" r="1.8" fill="#ff0090"/>
<circle cx="252.1" cy="675.2" r="1.8" fill="#ff0090"/>
<circle cx="272.6" cy="675.2" r="1.8" fill="#00e8ff"/>
<circle cx="274.7" cy="679.3" r="1.8" fill="#80ff00"/>
<circle cx="274.7" cy="683.4" r="1.8" fill="#ff00ff"/>
<circle cx="297.2" cy="675.2" r="1.8" fill="#00e8ff"/>
<circle cx="254.2" cy="689.5" r="1.8" fill="#0080ff"/>
<circle cx="254.2" cy="692.2" r="1.8" fill="#ff9000"/>
<circle cx="276.7" cy="691.6" r="1.8" fill="#0000ff"/>
<circle cx="246.0" cy="697.7" r="1.8" fill="#80ff00"/>
<circle cx="299.3" cy="693.6" r="1.8" fill="#80ff00"/>
<circle cx="297.2" cy="701.8" r="1.8" fill="#00e8ff"/>
<circle cx="295.2" cy="703.9" r="1.8" fill="#0080ff"/>
<circle cx="276.7" cy="703.9" r="1.8" fill="#00e8ff"/>
<circle cx="248.0" cy="705.9" r="1.8" fill="#80ff00"/>
<circle cx="237.8" cy="710.0" r="1.8" fill="#00f080"/>
<circle cx="295.2" cy="712.0" r="1.8" fill="#80ff00"/>
<circle cx="250.1" cy="716.1" r="1.8" fill="#9000ff"/>
<circle cx="237.8" cy="720.2" r="1.8" fill="#ff00ff"/>
<circle cx="237.8" cy="722.9" r="1.8" fill="#0080ff"/>
<circle cx="243.9" cy="720.9" r="1.8" fill="#ff9000"/>
<circle cx="246.0" cy="720.9" r="1.8" fill="#00e8ff"/>
<circle cx="291.1" cy="722.3" r="1.8" fill="#0000ff"/>
<circle cx="299.3" cy="720.2" r="1.8" fill="#ff9000"/>
<circle cx="250.1" cy="726.4" r="1.8" fill="#0000ff"/>
<circle cx="243.9" cy="728.4" r="1.8" fill="#00f080"/>
<circle cx="278.8" cy="728.4" r="1.8" fill="#0000ff"/>
<circle cx="307.5" cy="726.4" r="1.8" fill="#e8f000"/>
<circle cx="239.8" cy="734.6" r="1.8" fill="#9000ff"/>
<circle cx="248.0" cy="734.6" r="1.8" fill="#ff0000"/>
<circle cx="235.7" cy="736.6" r="1.8" fill="#80ff00"/>
<circle cx="239.8" cy="738.7" r="1.8" fill="#e8f000"/>
<circle cx="241.9" cy="740.7" r="1.8" fill="#20f020"/>
<circle cx="243.9" cy="738.7" r="1.8" fill="#0080ff"/>
<circle cx="250.1" cy="744.8" r="1.8" fill="#e8f000"/>
<circle cx="278.8" cy="740.7" r="1.8" fill="#00e8ff"/>
<circle cx="293.1" cy="732.5" r="1.8" fill="#20f020"/>
<circle cx="295.2" cy="732.5" r="1.8" fill="#ff00ff"/>
<circle cx="297.2" cy="730.5" r="1.8" fill="#00e8ff"/>
<circle cx="299.3" cy="734.6" r="1.8" fill="#9000ff"/>
<circle cx="307.5" cy="738.7" r="1.8" fill="#0080ff"/>
<circle cx="319.8" cy="738.7" r="1.8" fill="#0080ff"/>
<circle cx="319.8" cy="742.8" r="1.8" fill="#ff0090"/>
<circle cx="321.8" cy="744.8" r="1.8" fill="#80ff00"/>
<circle cx="323.9" cy="744.8" r="1.8" fill="#0000ff"/>
<circle cx="291.1" cy="751.0" r="1.8" fill="#0080ff"/>
<circle cx="293.1" cy="748.9" r="1.8" fill="#20f020"/>
<circle cx="291.1" cy="755.1" r="1.8" fill="#0000ff"/>
<circle cx="301.3" cy="748.9" r="1.8" fill="#20f020"/>
<circle cx="303.4" cy="748.9" r="1.8" fill="#ff00ff"/>
<circle cx="307.5" cy="751.0" r="1.8" fill="#9000ff"/>
<circle cx="239.8" cy="757.1" r="1.8" fill="#e8f000"/>
<circle cx="284.9" cy="759.2" r="1.8" fill="#20f020"/>
<circle cx="305.4" cy="759.2" r="1.8" fill="#00f080"/>
<circle cx="264.7" cy="469.4" r="1.8" fill="#ff9000"/>
<circle cx="262.4" cy="475.9" r="1.8" fill="#ff00ff"/>
<circle cx="264.7" cy="492.4" r="1.8" fill="#0080ff"/>
<circle cx="262.4" cy="525.3" r="1.8" fill="#0080ff"/>
<circle cx="264.7" cy="527.4" r="1.8" fill="#ff9000"/>
<circle cx="268.2" cy="531.2" r="1.8" fill="#0000ff"/>
<circle cx="262.4" cy="543.5" r="1.8" fill="#ff0090"/>
<circle cx="266.5" cy="543.5" r="1.8" fill="#9000ff"/>
<circle cx="241.6" cy="760.1" r="1.8" fill="#00e8ff"/>
<circle cx="235.4" cy="766.3" r="1.8" fill="#ff0090"/>
<circle cx="241.6" cy="766.3" r="1.8" fill="#ff9000"/>
<circle cx="233.4" cy="774.6" r="1.8" fill="#00f080"/>
<circle cx="235.4" cy="780.8" r="1.8" fill="#ff00ff"/>
<circle cx="233.4" cy="787.0" r="1.8" fill="#0000ff"/>
<circle cx="233.4" cy="795.3" r="1.8" fill="#0080ff"/>
<circle cx="231.3" cy="797.4" r="1.8" fill="#9000ff"/>
<circle cx="231.3" cy="801.5" r="1.8" fill="#80ff00"/>
<circle cx="230.0" cy="805.4" r="1.8" fill="#00e8ff"/>
<circle cx="231.3" cy="811.6" r="1.8" fill="#ff9000"/>
<circle cx="230.0" cy="813.7" r="1.8" fill="#80ff00"/>
<circle cx="285.0" cy="760.1" r="1.8" fill="#20f020"/>
<circle cx="286.9" cy="766.3" r="1.8" fill="#20f020"/>
<circle cx="278.9" cy="768.4" r="1.8" fill="#0080ff"/>
<circle cx="283.1" cy="768.4" r="1.8" fill="#20f020"/>
<circle cx="285.0" cy="768.4" r="1.8" fill="#0000ff"/>
<circle cx="293.4" cy="770.4" r="1.8" fill="#00f080"/>
<circle cx="289.3" cy="772.5" r="1.8" fill="#0000ff"/>
<circle cx="283.1" cy="774.6" r="1.8" fill="#20f020"/>
<circle cx="285.0" cy="776.7" r="1.8" fill="#0000ff"/>
<circle cx="281.1" cy="778.7" r="1.8" fill="#00f080"/>
<circle cx="283.1" cy="778.7" r="1.8" fill="#00f080"/>
<circle cx="286.9" cy="780.8" r="1.8" fill="#00f080"/>
<circle cx="286.9" cy="782.9" r="1.8" fill="#00f080"/>
<circle cx="281.1" cy="782.9" r="1.8" fill="#ff0000"/>
<circle cx="281.1" cy="791.2" r="1.8" fill="#00e8ff"/>
<circle cx="289.3" cy="793.2" r="1.8" fill="#9000ff"/>
<circle cx="289.3" cy="797.4" r="1.8" fill="#e8f000"/>
<circle cx="305.7" cy="760.1" r="1.8" fill="#00f080"/>
<circle cx="311.8" cy="764.2" r="1.8" fill="#ff9000"/>
<circle cx="322.1" cy="764.2" r="1.8" fill="#ff9000"/>
<circle cx="324.5" cy="764.2" r="1.8" fill="#00e8ff"/>
<circle cx="326.4" cy="764.2" r="1.8" fill="#0080ff"/>
<circle cx="301.2" cy="768.4" r="1.8" fill="#0000ff"/>
<circle cx="303.8" cy="768.4" r="1.8" fill="#00e8ff"/>
<circle cx="305.7" cy="766.3" r="1.8" fill="#80ff00"/>
<circle cx="310.0" cy="768.4" r="1.8" fill="#00e8ff"/>
<circle cx="320.3" cy="768.4" r="1.8" fill="#9000ff"/>
<circle cx="316.1" cy="770.4" r="1.8" fill="#ff0090"/>
<circle cx="303.8" cy="774.6" r="1.8" fill="#ff0090"/>
<circle cx="312.2" cy="774.6" r="1.8" fill="#0080ff"/>
<circle cx="316.1" cy="772.5" r="1.8" fill="#20f020"/>
<circle cx="318.0" cy="774.6" r="1.8" fill="#e8f000"/>
<circle cx="310.0" cy="776.7" r="1.8" fill="#e8f000"/>
<circle cx="316.1" cy="776.7" r="1.8" fill="#80ff00"/>
<circle cx="318.0" cy="776.7" r="1.8" fill="#ff0000"/>
<circle cx="322.5" cy="776.7" r="1.8" fill="#0080ff"/>
<circle cx="326.4" cy="776.7" r="1.8" fill="#00f080"/>
<circle cx="314.1" cy="778.7" r="1.8" fill="#00e8ff"/>
<circle cx="324.5" cy="778.7" r="1.8" fill="#0080ff"/>
<circle cx="305.7" cy="780.8" r="1.8" fill="#ff00ff"/>
<circle cx="301.8" cy="784.9" r="1.8" fill="#00f080"/>
<circle cx="310.0" cy="784.9" r="1.8" fill="#20f020"/>
<circle cx="311.8" cy="787.0" r="1.8" fill="#ff9000"/>
<circle cx="318.0" cy="784.9" r="1.8" fill="#0000ff"/>
<circle cx="326.4" cy="788.8" r="1.8" fill="#9000ff"/>
<circle cx="328.4" cy="795.3" r="1.8" fill="#ff0000"/>
<circle cx="330.7" cy="795.3" r="1.8" fill="#ff9000"/>
<circle cx="330.7" cy="799.2" r="1.8" fill="#ff0090"/>
<circle cx="330.7" cy="801.5" r="1.8" fill="#0080ff"/>
<circle cx="328.4" cy="803.6" r="1.8" fill="#0000ff"/>
<circle cx="328.4" cy="811.6" r="1.8" fill="#20f020"/>
<circle cx="332.9" cy="813.7" r="1.8" fill="#ff00ff"/>
<circle cx="334.6" cy="824.0" r="1.8" fill="#9000ff"/>
<circle cx="369.8" cy="648.9" r="1.8" fill="#80ff00"/>
<circle cx="369.8" cy="671.6" r="1.8" fill="#0000ff"/>
<circle cx="369.8" cy="688.1" r="1.8" fill="#00f080"/>
<circle cx="367.7" cy="694.2" r="1.8" fill="#9000ff"/>
<circle cx="367.7" cy="696.6" r="1.8" fill="#80ff00"/>
<circle cx="363.4" cy="704.5" r="1.8" fill="#80ff00"/>
<circle cx="371.8" cy="712.8" r="1.8" fill="#00e8ff"/>
<circle cx="367.7" cy="721.0" r="1.8" fill="#ff9000"/>
<circle cx="365.5" cy="725.0" r="1.8" fill="#00e8ff"/>
<circle cx="361.2" cy="729.2" r="1.8" fill="#80ff00"/>
<circle cx="363.4" cy="729.2" r="1.8" fill="#9000ff"/>
<circle cx="365.5" cy="729.2" r="1.8" fill="#0080ff"/>
<circle cx="371.8" cy="729.2" r="1.8" fill="#ff00ff"/>
<circle cx="365.5" cy="735.3" r="1.8" fill="#00e8ff"/>
<circle cx="361.2" cy="741.5" r="1.8" fill="#00f080"/>
<circle cx="363.4" cy="741.5" r="1.8" fill="#0080ff"/>
<circle cx="371.8" cy="745.8" r="1.8" fill="#ff0090"/>
<circle cx="373.7" cy="745.8" r="1.8" fill="#ff00ff"/>
<circle cx="361.2" cy="751.8" r="1.8" fill="#00f080"/>
<circle cx="373.7" cy="751.8" r="1.8" fill="#00f080"/>
<circle cx="375.8" cy="758.3" r="1.8" fill="#0080ff"/>
<circle cx="373.8" cy="766.3" r="1.8" fill="#80ff00"/>
<circle cx="361.5" cy="778.7" r="1.8" fill="#0080ff"/>
<circle cx="380.0" cy="780.8" r="1.8" fill="#ff9000"/>
<circle cx="378.1" cy="782.9" r="1.8" fill="#20f020"/>
<circle cx="376.2" cy="784.9" r="1.8" fill="#9000ff"/>
<circle cx="380.0" cy="788.8" r="1.8" fill="#0080ff"/>
<circle cx="380.0" cy="791.2" r="1.8" fill="#ff9000"/>
<circle cx="378.1" cy="795.0" r="1.8" fill="#e8f000"/>
<circle cx="378.1" cy="797.2" r="1.8" fill="#00e8ff"/>
<circle cx="359.6" cy="799.2" r="1.8" fill="#0000ff"/>
<circle cx="359.6" cy="803.3" r="1.8" fill="#0000ff"/>
<circle cx="382.2" cy="807.5" r="1.8" fill="#00f080"/>
<circle cx="382.2" cy="813.7" r="1.8" fill="#00e8ff"/>
<circle cx="384.2" cy="819.9" r="1.8" fill="#20f020"/>
<circle cx="382.2" cy="822.0" r="1.8" fill="#0080ff"/>
<circle cx="386.5" cy="826.1" r="1.8" fill="#ff0000"/>
<circle cx="384.2" cy="830.0" r="1.8" fill="#80ff00"/>
<circle cx="384.2" cy="832.2" r="1.8" fill="#ff0090"/>
<circle cx="386.5" cy="834.4" r="1.8" fill="#e8f000"/>
<circle cx="386.5" cy="838.4" r="1.8" fill="#0000ff"/>
<circle cx="388.3" cy="842.5" r="1.8" fill="#ff00ff"/>
<circle cx="388.3" cy="846.5" r="1.8" fill="#ff0090"/>
<circle cx="390.4" cy="848.6" r="1.8" fill="#0080ff"/>
<circle cx="392.5" cy="848.6" r="1.8" fill="#00e8ff"/>
<circle cx="388.3" cy="852.9" r="1.8" fill="#0080ff"/>
<circle cx="390.4" cy="852.9" r="1.8" fill="#ff9000"/>
<circle cx="392.5" cy="852.9" r="1.8" fill="#0080ff"/>
<circle cx="338.9" cy="809.5" r="1.8" fill="#e8f000"/>
<circle cx="340.8" cy="813.7" r="1.8" fill="#0080ff"/>
<circle cx="340.8" cy="815.7" r="1.8" fill="#9000ff"/>
<circle cx="336.9" cy="815.7" r="1.8" fill="#e8f000"/>
<circle cx="336.9" cy="817.9" r="1.8" fill="#0000ff"/>
<circle cx="343.0" cy="819.9" r="1.8" fill="#0000ff"/>
<circle cx="336.3" cy="822.0" r="1.8" fill="#ff0000"/>
<circle cx="338.9" cy="824.0" r="1.8" fill="#0000ff"/>
<circle cx="343.0" cy="824.0" r="1.8" fill="#20f020"/>
<circle cx="338.9" cy="826.1" r="1.8" fill="#20f020"/>
<circle cx="355.4" cy="817.9" r="1.8" fill="#00f080"/>
<circle cx="359.6" cy="817.9" r="1.8" fill="#0000ff"/>
<circle cx="357.6" cy="822.0" r="1.8" fill="#9000ff"/>
<circle cx="351.2" cy="824.0" r="1.8" fill="#20f020"/>
<circle cx="353.4" cy="826.4" r="1.8" fill="#20f020"/>
<circle cx="355.4" cy="826.1" r="1.8" fill="#20f020"/>
<circle cx="357.6" cy="828.2" r="1.8" fill="#e8f000"/>
<circle cx="353.4" cy="830.2" r="1.8" fill="#0000ff"/>
<circle cx="340.8" cy="830.2" r="1.8" fill="#20f020"/>
<circle cx="345.1" cy="830.2" r="1.8" fill="#9000ff"/>
<circle cx="346.9" cy="830.2" r="1.8" fill="#0080ff"/>
<circle cx="349.0" cy="830.2" r="1.8" fill="#00e8ff"/>
<circle cx="349.0" cy="832.2" r="1.8" fill="#ff0000"/>
<circle cx="351.2" cy="832.2" r="1.8" fill="#20f020"/>
<circle cx="343.0" cy="832.2" r="1.8" fill="#20f020"/>
<circle cx="345.1" cy="834.4" r="1.8" fill="#20f020"/>
<circle cx="357.6" cy="832.2" r="1.8" fill="#00f080"/>
<circle cx="345.1" cy="838.4" r="1.8" fill="#00e8ff"/>
<circle cx="346.9" cy="838.4" r="1.8" fill="#00e8ff"/>
<circle cx="349.0" cy="836.5" r="1.8" fill="#0080ff"/>
<circle cx="351.2" cy="836.5" r="1.8" fill="#00e8ff"/>
<circle cx="346.9" cy="840.6" r="1.8" fill="#0080ff"/>
<circle cx="335.0" cy="823.8" r="1.8" fill="#ff00ff"/>
<circle cx="402.9" cy="807.5" r="1.8" fill="#80ff00"/>
<circle cx="402.9" cy="809.5" r="1.8" fill="#ff9000"/>
<circle cx="401.0" cy="815.7" r="1.8" fill="#0080ff"/>
<circle cx="402.9" cy="817.6" r="1.8" fill="#9000ff"/>
<circle cx="401.0" cy="819.9" r="1.8" fill="#ff9000"/>
<circle cx="396.6" cy="826.1" r="1.8" fill="#20f020"/>
<circle cx="407.2" cy="824.0" r="1.8" fill="#20f020"/>
<circle cx="396.6" cy="830.2" r="1.8" fill="#0000ff"/>
<circle cx="398.7" cy="832.2" r="1.8" fill="#ff9000"/>
<circle cx="401.0" cy="830.2" r="1.8" fill="#ff0090"/>
<circle cx="396.6" cy="832.2" r="1.8" fill="#ff0000"/>
<circle cx="398.7" cy="834.4" r="1.8" fill="#0080ff"/>
<circle cx="404.9" cy="830.2" r="1.8" fill="#e8f000"/>
<circle cx="407.2" cy="830.2" r="1.8" fill="#0000ff"/>
<circle cx="404.9" cy="834.4" r="1.8" fill="#0000ff"/>
<circle cx="409.0" cy="832.2" r="1.8" fill="#20f020"/>
<circle cx="411.4" cy="832.2" r="1.8" fill="#20f020"/>
<circle cx="407.2" cy="836.5" r="1.8" fill="#e8f000"/>
<circle cx="409.0" cy="836.5" r="1.8" fill="#9000ff"/>
<circle cx="411.4" cy="838.4" r="1.8" fill="#80ff00"/>
<circle cx="409.0" cy="838.4" r="1.8" fill="#0080ff"/>
<circle cx="413.3" cy="838.4" r="1.8" fill="#ff00ff"/>
<circle cx="415.2" cy="834.4" r="1.8" fill="#00e8ff"/>
<circle cx="417.2" cy="834.4" r="1.8" fill="#00f080"/>
<circle cx="419.1" cy="830.2" r="1.8" fill="#20f020"/>
<circle cx="417.2" cy="838.4" r="1.8" fill="#ff0000"/>
<circle cx="419.1" cy="836.5" r="1.8" fill="#20f020"/>
<circle cx="421.1" cy="834.4" r="1.8" fill="#0000ff"/>
<circle cx="421.1" cy="838.4" r="1.8" fill="#20f020"/>
<circle cx="425.6" cy="834.4" r="1.8" fill="#e8f000"/>
<circle cx="427.5" cy="834.4" r="1.8" fill="#0000ff"/>
<circle cx="425.6" cy="838.4" r="1.8" fill="#9000ff"/>
<circle cx="427.5" cy="840.6" r="1.8" fill="#0000ff"/>
<circle cx="429.5" cy="842.5" r="1.8" fill="#0080ff"/>
<circle cx="423.7" cy="842.5" r="1.8" fill="#20f020"/>
<circle cx="423.7" cy="844.5" r="1.8" fill="#80ff00"/>
<circle cx="423.7" cy="846.5" r="1.8" fill="#0080ff"/>
<circle cx="427.5" cy="844.5" r="1.8" fill="#0000ff"/>
<circle cx="429.5" cy="844.5" r="1.8" fill="#00f080"/>
<circle cx="411.4" cy="842.5" r="1.8" fill="#0000ff"/>
<circle cx="415.2" cy="842.5" r="1.8" fill="#0080ff"/>
<circle cx="417.2" cy="840.6" r="1.8" fill="#0080ff"/>
<circle cx="415.2" cy="846.5" r="1.8" fill="#0000ff"/>
<circle cx="413.3" cy="846.5" r="1.8" fill="#20f020"/>
<circle cx="413.3" cy="848.6" r="1.8" fill="#00e8ff"/>
<circle cx="398.7" cy="842.5" r="1.8" fill="#ff0090"/>
<circle cx="404.9" cy="842.5" r="1.8" fill="#ff0000"/>
<circle cx="394.5" cy="836.5" r="1.8" fill="#9000ff"/>
<circle cx="394.5" cy="838.4" r="1.8" fill="#0080ff"/>
<circle cx="392.5" cy="840.6" r="1.8" fill="#0000ff"/>
<circle cx="394.5" cy="842.5" r="1.8" fill="#00f080"/>
<circle cx="429.5" cy="848.6" r="1.8" fill="#00f080"/>
<circle cx="431.8" cy="852.9" r="1.8" fill="#ff00ff"/>
<circle cx="434.0" cy="854.8" r="1.8" fill="#20f020"/>
<circle cx="431.8" cy="854.8" r="1.8" fill="#0080ff"/>
<circle cx="434.0" cy="856.9" r="1.8" fill="#00e8ff"/>
<circle cx="435.9" cy="859.1" r="1.8" fill="#ff9000"/>
<circle cx="434.0" cy="861.0" r="1.8" fill="#00f080"/>
<circle cx="435.9" cy="863.2" r="1.8" fill="#20f020"/>
<circle cx="437.9" cy="865.2" r="1.8" fill="#0000ff"/>
<circle cx="439.8" cy="865.2" r="1.8" fill="#ff00ff"/>
<circle cx="440.1" cy="867.8" r="1.8" fill="#20f020"/>
<circle cx="442.4" cy="861.0" r="1.8" fill="#ff00ff"/>
<circle cx="442.4" cy="863.2" r="1.8" fill="#ff0090"/>
<circle cx="444.2" cy="850.4" r="1.8" fill="#e8f000"/>
<circle cx="444.2" cy="853.2" r="1.8" fill="#0080ff"/>
<circle cx="446.4" cy="854.6" r="1.8" fill="#9000ff"/>
<circle cx="446.4" cy="857.4" r="1.8" fill="#80ff00"/>
<circle cx="444.2" cy="858.1" r="1.8" fill="#00f080"/>
<circle cx="448.5" cy="860.9" r="1.8" fill="#0080ff"/>
<circle cx="448.5" cy="865.2" r="1.8" fill="#00e8ff"/>
<circle cx="450.6" cy="862.4" r="1.8" fill="#00e8ff"/>
<circle cx="452.7" cy="863.8" r="1.8" fill="#20f020"/>
<circle cx="452.7" cy="867.3" r="1.8" fill="#ff0000"/>
<circle cx="454.8" cy="863.1" r="1.8" fill="#e8f000"/>
<circle cx="454.8" cy="867.3" r="1.8" fill="#ff0000"/>
<circle cx="456.9" cy="865.2" r="1.8" fill="#ff00ff"/>
<circle cx="456.9" cy="867.3" r="1.8" fill="#0080ff"/>
<circle cx="458.4" cy="865.2" r="1.8" fill="#ff9000"/>
<circle cx="460.5" cy="865.2" r="1.8" fill="#00e8ff"/>
<circle cx="462.6" cy="857.0" r="1.8" fill="#0000ff"/>
<circle cx="461.2" cy="860.9" r="1.8" fill="#0080ff"/>
<circle cx="463.3" cy="861.6" r="1.8" fill="#00e8ff"/>
<circle cx="464.7" cy="865.2" r="1.8" fill="#ff0000"/>
<circle cx="464.7" cy="867.3" r="1.8" fill="#0000ff"/>
<circle cx="466.8" cy="867.3" r="1.8" fill="#ff0090"/>
<circle cx="466.8" cy="865.2" r="1.8" fill="#ff0000"/>
<circle cx="468.9" cy="864.5" r="1.8" fill="#ff00ff"/>
<circle cx="468.9" cy="862.4" r="1.8" fill="#ff9000"/>
<circle cx="471.1" cy="860.9" r="1.8" fill="#ff9000"/>
<circle cx="471.1" cy="863.1" r="1.8" fill="#80ff00"/>
<circle cx="473.2" cy="865.2" r="1.8" fill="#9000ff"/>
<circle cx="473.2" cy="869.4" r="1.8" fill="#0000ff"/>
<circle cx="474.6" cy="870.8" r="1.8" fill="#0000ff"/>
<circle cx="477.4" cy="870.8" r="1.8" fill="#20f020"/>
<circle cx="477.4" cy="873.6" r="1.8" fill="#9000ff"/>
<circle cx="479.5" cy="873.6" r="1.8" fill="#00f080"/>
<circle cx="481.6" cy="875.8" r="1.8" fill="#20f020"/>
<circle cx="483.8" cy="875.8" r="1.8" fill="#00e8ff"/>
<circle cx="485.2" cy="873.6" r="1.8" fill="#0080ff"/>
<circle cx="485.9" cy="871.5" r="1.8" fill="#00f080"/>
<circle cx="488.0" cy="870.8" r="1.8" fill="#20f020"/>
<circle cx="490.1" cy="870.8" r="1.8" fill="#0000ff"/>
<circle cx="492.2" cy="870.8" r="1.8" fill="#80ff00"/>
<circle cx="493.6" cy="871.5" r="1.8" fill="#00f080"/>
<circle cx="494.4" cy="872.9" r="1.8" fill="#e8f000"/>
<circle cx="495.8" cy="873.6" r="1.8" fill="#0000ff"/>
<circle cx="497.9" cy="875.1" r="1.8" fill="#00f080"/>
<circle cx="500.0" cy="874.4" r="1.8" fill="#0080ff"/>
<circle cx="499.3" cy="875.8" r="1.8" fill="#00e8ff"/>
<circle cx="502.1" cy="875.8" r="1.8" fill="#20f020"/>
<circle cx="504.2" cy="875.8" r="1.8" fill="#80ff00"/>
<circle cx="506.4" cy="875.8" r="1.8" fill="#80ff00"/>
<circle cx="508.5" cy="876.5" r="1.8" fill="#00e8ff"/>
<circle cx="508.5" cy="877.9" r="1.8" fill="#0080ff"/>
<circle cx="510.6" cy="875.8" r="1.8" fill="#0080ff"/>
<circle cx="512.7" cy="875.8" r="1.8" fill="#0000ff"/>
<circle cx="513.4" cy="877.2" r="1.8" fill="#9000ff"/>
<circle cx="514.8" cy="877.9" r="1.8" fill="#e8f000"/>
<circle cx="516.9" cy="877.9" r="1.8" fill="#00e8ff"/>
<circle cx="519.1" cy="876.5" r="1.8" fill="#20f020"/>
<circle cx="520.5" cy="875.1" r="1.8" fill="#ff9000"/>
<circle cx="521.9" cy="875.1" r="1.8" fill="#20f020"/>
<circle cx="523.3" cy="877.2" r="1.8" fill="#ff00ff"/>
<circle cx="524.7" cy="877.9" r="1.8" fill="#0080ff"/>
<circle cx="526.8" cy="877.9" r="1.8" fill="#0080ff"/>
<circle cx="528.9" cy="877.9" r="1.8" fill="#0000ff"/>
<circle cx="531.1" cy="877.9" r="1.8" fill="#e8f000"/>
<circle cx="533.2" cy="877.9" r="1.8" fill="#ff0000"/>
<circle cx="535.3" cy="877.9" r="1.8" fill="#ff0090"/>
<circle cx="537.4" cy="877.9" r="1.8" fill="#ff9000"/>
<circle cx="539.5" cy="877.9" r="1.8" fill="#e8f000"/>
<circle cx="541.7" cy="877.9" r="1.8" fill="#9000ff"/>
<circle cx="543.8" cy="877.9" r="1.8" fill="#0000ff"/>
<circle cx="545.9" cy="877.9" r="1.8" fill="#00f080"/>
<circle cx="548.0" cy="877.9" r="1.8" fill="#20f020"/>
<circle cx="550.1" cy="877.9" r="1.8" fill="#0080ff"/>
<circle cx="552.2" cy="877.9" r="1.8" fill="#00e8ff"/>
<circle cx="553.7" cy="879.3" r="1.8" fill="#00f080"/>
<circle cx="555.8" cy="877.9" r="1.8" fill="#0000ff"/>
<circle cx="557.9" cy="877.9" r="1.8" fill="#0080ff"/>
<circle cx="559.3" cy="879.3" r="1.8" fill="#00f080"/>
<circle cx="225.1" cy="770.4" r="1.8" fill="#0080ff"/>
<circle cx="227.1" cy="778.3" r="1.8" fill="#80ff00"/>
<circle cx="227.1" cy="780.5" r="1.8" fill="#0080ff"/>
<circle cx="225.1" cy="782.8" r="1.8" fill="#20f020"/>
<circle cx="227.1" cy="789.0" r="1.8" fill="#9000ff"/>
<circle cx="224.9" cy="791.2" r="1.8" fill="#00f080"/>
<circle cx="223.2" cy="792.9" r="1.8" fill="#0080ff"/>
<circle cx="223.2" cy="794.6" r="1.8" fill="#0000ff"/>
<circle cx="223.0" cy="797.4" r="1.8" fill="#00f080"/>
<circle cx="228.8" cy="797.4" r="1.8" fill="#00e8ff"/>
<circle cx="220.9" cy="803.4" r="1.8" fill="#0000ff"/>
<circle cx="220.9" cy="815.7" r="1.8" fill="#0000ff"/>
<circle cx="144.7" cy="825.9" r="1.8" fill="#20f020"/>
<circle cx="148.2" cy="832.2" r="1.8" fill="#0000ff"/>
<circle cx="142.6" cy="834.4" r="1.8" fill="#0080ff"/>
<circle cx="134.1" cy="836.5" r="1.8" fill="#9000ff"/>
<circle cx="135.5" cy="835.8" r="1.8" fill="#0000ff"/>
<circle cx="154.6" cy="828.0" r="1.8" fill="#0080ff"/>
<circle cx="157.0" cy="824.0" r="1.8" fill="#0080ff"/>
<circle cx="158.8" cy="817.8" r="1.8" fill="#9000ff"/>
<circle cx="148.9" cy="828.0" r="1.8" fill="#20f020"/>
<circle cx="560.0" cy="879.3" r="1.8" fill="#0000ff"/>
<circle cx="562.1" cy="879.2" r="1.8" fill="#9000ff"/>
<circle cx="564.2" cy="879.5" r="1.8" fill="#9000ff"/>
<circle cx="566.3" cy="879.2" r="1.8" fill="#ff0000"/>
<circle cx="568.4" cy="879.8" r="1.8" fill="#0080ff"/>
<circle cx="570.5" cy="879.3" r="1.8" fill="#80ff00"/>
<circle cx="572.6" cy="879.3" r="1.8" fill="#ff0090"/>
<circle cx="574.7" cy="879.5" r="1.8" fill="#0000ff"/>
<circle cx="576.8" cy="879.5" r="1.8" fill="#ff00ff"/>
<circle cx="578.9" cy="879.8" r="1.8" fill="#80ff00"/>
<circle cx="581.0" cy="879.6" r="1.8" fill="#0000ff"/>
<circle cx="583.1" cy="879.4" r="1.8" fill="#ff0000"/>
<circle cx="585.2" cy="879.6" r="1.8" fill="#ff9000"/>
<circle cx="587.3" cy="879.2" r="1.8" fill="#9000ff"/>
<circle cx="589.4" cy="879.1" r="1.8" fill="#ff0000"/>
<circle cx="591.5" cy="879.8" r="1.8" fill="#20f020"/>
<circle cx="593.6" cy="879.5" r="1.8" fill="#ff0090"/>
<circle cx="595.7" cy="879.8" r="1.8" fill="#00e8ff"/>
<circle cx="597.8" cy="879.7" r="1.8" fill="#00e8ff"/>
<circle cx="599.9" cy="879.4" r="1.8" fill="#9000ff"/>
<circle cx="602.0" cy="879.5" r="1.8" fill="#e8f000"/>
<circle cx="604.1" cy="879.8" r="1.8" fill="#ff9000"/>
<circle cx="606.2" cy="879.1" r="1.8" fill="#0080ff"/>
<circle cx="608.3" cy="879.3" r="1.8" fill="#ff00ff"/>
<circle cx="610.4" cy="879.4" r="1.8" fill="#ff00ff"/>
<circle cx="612.5" cy="879.8" r="1.8" fill="#00e8ff"/>
<circle cx="614.6" cy="879.5" r="1.8" fill="#00e8ff"/>
<circle cx="616.7" cy="879.6" r="1.8" fill="#0000ff"/>
<circle cx="618.8" cy="879.6" r="1.8" fill="#9000ff"/>
<circle cx="620.9" cy="879.3" r="1.8" fill="#00f080"/>
<circle cx="623.0" cy="879.6" r="1.8" fill="#ff0000"/>
<circle cx="625.1" cy="879.8" r="1.8" fill="#9000ff"/>
<circle cx="627.2" cy="879.6" r="1.8" fill="#e8f000"/>
<circle cx="629.3" cy="879.7" r="1.8" fill="#00f080"/>
<circle cx="631.4" cy="879.9" r="1.8" fill="#9000ff"/>
<circle cx="633.5" cy="879.6" r="1.8" fill="#ff0090"/>
<circle cx="635.6" cy="879.6" r="1.8" fill="#ff00ff"/>
<circle cx="637.7" cy="879.8" r="1.8" fill="#9000ff"/>
<circle cx="639.8" cy="879.3" r="1.8" fill="#ff9000"/>
<circle cx="641.9" cy="879.2" r="1.8" fill="#ff00ff"/>
<circle cx="644.0" cy="879.9" r="1.8" fill="#ff9000"/>
<circle cx="646.1" cy="879.4" r="1.8" fill="#ff9000"/>
<circle cx="648.2" cy="879.4" r="1.8" fill="#e8f000"/>
<circle cx="650.3" cy="879.1" r="1.8" fill="#00e8ff"/>
<circle cx="652.4" cy="879.7" r="1.8" fill="#ff9000"/>
<circle cx="654.5" cy="879.1" r="1.8" fill="#9000ff"/>
<circle cx="656.6" cy="879.7" r="1.8" fill="#00e8ff"/>
<circle cx="658.7" cy="879.7" r="1.8" fill="#00f080"/>
<circle cx="660.8" cy="879.5" r="1.8" fill="#20f020"/>
<circle cx="662.9" cy="879.5" r="1.8" fill="#ff0000"/>
<circle cx="665.0" cy="879.3" r="1.8" fill="#ff9000"/>
<circle cx="667.1" cy="879.2" r="1.8" fill="#0000ff"/>
<circle cx="669.2" cy="879.1" r="1.8" fill="#80ff00"/>
<circle cx="671.3" cy="879.9" r="1.8" fill="#20f020"/>
<circle cx="673.4" cy="879.6" r="1.8" fill="#e8f000"/>
<circle cx="675.5" cy="879.7" r="1.8" fill="#00f080"/>
<circle cx="677.6" cy="879.4" r="1.8" fill="#e8f000"/>
<circle cx="679.7" cy="879.8" r="1.8" fill="#00e8ff"/>
<circle cx="681.8" cy="879.4" r="1.8" fill="#0000ff"/>
<circle cx="683.9" cy="879.4" r="1.8" fill="#9000ff"/>
<circle cx="686.0" cy="879.6" r="1.8" fill="#ff9000"/>
<circle cx="688.1" cy="879.6" r="1.8" fill="#0000ff"/>
<circle cx="690.2" cy="879.3" r="1.8" fill="#ff00ff"/>
<circle cx="692.3" cy="879.7" r="1.8" fill="#80ff00"/>
<circle cx="694.4" cy="879.8" r="1.8" fill="#00e8ff"/>
<circle cx="696.5" cy="879.9" r="1.8" fill="#0000ff"/>
<circle cx="698.6" cy="879.3" r="1.8" fill="#00f080"/>
<circle cx="700.7" cy="879.1" r="1.8" fill="#00e8ff"/>
<circle cx="702.8" cy="879.9" r="1.8" fill="#00f080"/>
<circle cx="704.9" cy="879.1" r="1.8" fill="#9000ff"/>
<circle cx="707.0" cy="879.6" r="1.8" fill="#e8f000"/>
<circle cx="709.1" cy="879.1" r="1.8" fill="#ff00ff"/>
<circle cx="711.2" cy="879.4" r="1.8" fill="#00f080"/>
<circle cx="713.3" cy="879.6" r="1.8" fill="#00f080"/>
<circle cx="715.4" cy="879.6" r="1.8" fill="#20f020"/>
<circle cx="717.5" cy="879.7" r="1.8" fill="#ff0000"/>
<circle cx="719.6" cy="879.6" r="1.8" fill="#ff00ff"/>
<circle cx="721.7" cy="879.1" r="1.8" fill="#00f080"/>
<circle cx="723.8" cy="879.3" r="1.8" fill="#0080ff"/>
<circle cx="725.9" cy="879.3" r="1.8" fill="#9000ff"/>
<circle cx="728.0" cy="879.4" r="1.8" fill="#00f080"/>
<circle cx="730.1" cy="879.2" r="1.8" fill="#00f080"/>
<circle cx="732.2" cy="879.8" r="1.8" fill="#20f020"/>
<circle cx="734.3" cy="879.3" r="1.8" fill="#00e8ff"/>
<circle cx="736.4" cy="879.2" r="1.8" fill="#ff0000"/>
<circle cx="738.5" cy="879.9" r="1.8" fill="#ff00ff"/>
<circle cx="740.6" cy="879.7" r="1.8" fill="#20f020"/>
<circle cx="742.7" cy="879.5" r="1.8" fill="#ff00ff"/>
<circle cx="744.8" cy="879.7" r="1.8" fill="#80ff00"/>
<circle cx="746.9" cy="879.4" r="1.8" fill="#ff00ff"/>
<circle cx="749.0" cy="879.4" r="1.8" fill="#ff0090"/>
<circle cx="751.1" cy="879.2" r="1.8" fill="#9000ff"/>
<circle cx="753.2" cy="879.4" r="1.8" fill="#00f080"/>
<circle cx="755.3" cy="879.6" r="1.8" fill="#80ff00"/>
<circle cx="757.4" cy="879.5" r="1.8" fill="#e8f000"/>
<circle cx="759.5" cy="879.2" r="1.8" fill="#ff0090"/>
<circle cx="761.6" cy="879.6" r="1.8" fill="#9000ff"/>
<circle cx="763.7" cy="879.5" r="1.8" fill="#80ff00"/>
<circle cx="765.8" cy="879.7" r="1.8" fill="#ff0000"/>
<circle cx="767.9" cy="879.5" r="1.8" fill="#80ff00"/>
<circle cx="770.0" cy="879.4" r="1.8" fill="#9000ff"/>
<circle cx="772.1" cy="879.2" r="1.8" fill="#20f020"/>
<circle cx="774.2" cy="879.4" r="1.8" fill="#ff00ff"/>
<circle cx="776.3" cy="879.2" r="1.8" fill="#9000ff"/>
<circle cx="778.4" cy="879.4" r="1.8" fill="#e8f000"/>
<circle cx="780.5" cy="879.4" r="1.8" fill="#0000ff"/>
<circle cx="782.6" cy="879.7" r="1.8" fill="#20f020"/>
<circle cx="784.7" cy="879.5" r="1.8" fill="#ff00ff"/>
<circle cx="786.8" cy="879.4" r="1.8" fill="#00e8ff"/>
<circle cx="788.9" cy="879.6" r="1.8" fill="#ff0000"/>
<circle cx="791.0" cy="879.8" r="1.8" fill="#e8f000"/>
<circle cx="793.1" cy="876.7" r="1.8" fill="#0080ff"/>
<circle cx="795.2" cy="877.3" r="1.8" fill="#9000ff"/>
<circle cx="797.3" cy="877.3" r="1.8" fill="#00e8ff"/>
<circle cx="799.4" cy="876.9" r="1.8" fill="#ff0090"/>
<circle cx="801.5" cy="876.7" r="1.8" fill="#ff0090"/>
<circle cx="803.6" cy="876.9" r="1.8" fill="#ff00ff"/>
<circle cx="805.7" cy="877.1" r="1.8" fill="#20f020"/>
<circle cx="807.8" cy="876.9" r="1.8" fill="#80ff00"/>
<circle cx="809.9" cy="877.2" r="1.8" fill="#9000ff"/>
<circle cx="812.0" cy="877.3" r="1.8" fill="#ff9000"/>
<circle cx="814.1" cy="877.1" r="1.8" fill="#ff0000"/>
<circle cx="816.2" cy="876.5" r="1.8" fill="#ff0090"/>
<circle cx="818.3" cy="876.9" r="1.8" fill="#80ff00"/>
<line x1="362.4" y1="493.0" x2="273.5" y2="471.8" stroke="#000" stroke-width="1.6"/><path d="M0,0 L-18.0,-6.0 Q-9.9,0 -18.0,6.0 Z" fill="#000" transform="translate(273.5,471.8) rotate(-166.6)"/>
<line x1="366.8" y1="548.8" x2="277.0" y2="532.6" stroke="#000" stroke-width="1.6"/><path d="M0,0 L-18.0,-6.0 Q-9.9,0 -18.0,6.0 Z" fill="#000" transform="translate(277.0,532.6) rotate(-169.8)"/>
<line x1="511.2" y1="782.0" x2="432.4" y2="829.7" stroke="#000" stroke-width="1.6"/><path d="M0,0 L-18.0,-6.0 Q-9.9,0 -18.0,6.0 Z" fill="#000" transform="translate(432.4,829.7) rotate(148.8)"/>
<line x1="562.6" y1="822.4" x2="478.0" y2="859.0" stroke="#000" stroke-width="1.6"/><path d="M0,0 L-18.0,-6.0 Q-9.9,0 -18.0,6.0 Z" fill="#000" transform="translate(478.0,859.0) rotate(156.6)"/>
<text stroke="#000" stroke-width="0.38" x="373.3" y="504.5" font-family="Liberation Sans" font-style="italic" font-size="29.5" letter-spacing="1">fast</text>
<text stroke="#000" stroke-width="0.38" x="375.2" y="560" font-family="Liberation Sans" font-style="italic" font-size="29.5">slow</text>
<text stroke="#000" stroke-width="0.38" x="517.6" y="789.2" font-family="Liberation Sans" font-style="italic" font-size="29.5">slow</text>
<text stroke="#000" stroke-width="0.38" x="572.2" y="829.4" font-family="Liberation Sans" font-style="italic" font-size="29.5" letter-spacing="1">fast</text>
<rect x="536.8" y="474.5" width="240.2" height="149.2" fill="#fff" stroke="none"/>
<path d="M541.8,474.5v2.5 M541.8,623.7v-2.5 M553.3,474.5v2.5 M553.3,623.7v-2.5 M564.8,474.5v2.5 M564.8,623.7v-2.5 M576.3,474.5v2.5 M576.3,623.7v-2.5 M587.8,474.5v2.5 M587.8,623.7v-2.5 M599.3,474.5v2.5 M599.3,623.7v-2.5 M610.8,474.5v2.5 M610.8,623.7v-2.5 M622.3,474.5v2.5 M622.3,623.7v-2.5 M633.8,474.5v2.5 M633.8,623.7v-2.5 M645.3,474.5v2.5 M645.3,623.7v-2.5 M656.8,474.5v2.5 M656.8,623.7v-2.5 M668.3,474.5v2.5 M668.3,623.7v-2.5 M679.8,474.5v2.5 M679.8,623.7v-2.5 M691.3,474.5v2.5 M691.3,623.7v-2.5 M702.8,474.5v2.5 M702.8,623.7v-2.5 M714.3,474.5v2.5 M714.3,623.7v-2.5 M725.8,474.5v2.5 M725.8,623.7v-2.5 M737.3,474.5v2.5 M737.3,623.7v-2.5 M748.8,474.5v2.5 M748.8,623.7v-2.5 M760.3,474.5v2.5 M760.3,623.7v-2.5 M771.8,474.5v2.5 M771.8,623.7v-2.5 M536.8,621.7h2.5 M777.0,621.7h-3.3 M536.8,615.7h2.5 M777.0,615.7h-3.3 M536.8,609.7h2.5 M777.0,609.7h-3.3 M536.8,603.7h2.5 M777.0,603.7h-3.3 M536.8,597.7h2.5 M777.0,597.7h-3.3 M536.8,591.7h2.5 M777.0,591.7h-3.3 M536.8,585.7h2.5 M777.0,585.7h-3.3 M536.8,579.7h2.5 M777.0,579.7h-3.3 M536.8,573.7h2.5 M777.0,573.7h-3.3 M536.8,567.7h2.5 M777.0,567.7h-3.3 M536.8,561.7h2.5 M777.0,561.7h-3.3 M536.8,555.7h2.5 M777.0,555.7h-3.3 M536.8,549.7h2.5 M777.0,549.7h-3.3 M536.8,543.7h2.5 M777.0,543.7h-3.3 M536.8,537.7h2.5 M777.0,537.7h-3.3 M536.8,531.7h2.5 M777.0,531.7h-3.3 M536.8,525.7h2.5 M777.0,525.7h-3.3 M536.8,519.7h2.5 M777.0,519.7h-3.3 M536.8,513.7h2.5 M777.0,513.7h-3.3 M536.8,507.7h2.5 M777.0,507.7h-3.3 M536.8,501.7h2.5 M777.0,501.7h-3.3 M536.8,495.7h2.5 M777.0,495.7h-3.3 M536.8,489.7h2.5 M777.0,489.7h-3.3 M536.8,483.7h2.5 M777.0,483.7h-3.3 M536.8,477.7h2.5 M777.0,477.7h-3.3" stroke="#888" stroke-width="0.9" fill="none"/>
<rect x="536.8" y="474.5" width="240.2" height="149.2" fill="none" stroke="#444" stroke-width="1.2"/>
<text stroke="#000" stroke-width="0.29" x="557.5" y="507.4" font-family="Liberation Sans" font-style="italic" font-size="22" letter-spacing="1.2">p=0.75</text>
<text stroke="#000" stroke-width="0.35" x="781.5" y="512.6" font-family="Liberation Sans" font-size="27" letter-spacing="-1.5">10</text>
<text stroke="#000" stroke-width="0.22" x="810.5" y="501" font-family="Liberation Sans" font-size="17">3</text>
<text stroke="#000" stroke-width="0.35" x="783.5" y="629.8" font-family="Liberation Sans" font-size="27">0</text>
<text stroke="#000" stroke-width="0.30" x="601.7" y="649" font-family="Liberation Sans" font-style="italic" font-size="23" letter-spacing="0.55">Species C</text>
<text stroke="#000" stroke-width="0.29" x="483.9" y="493.5" font-family="Liberation Sans" font-style="italic" font-size="22.5">R</text>
<text stroke="#000" stroke-width="0.21" x="499.6" y="497.8" font-family="Liberation Sans" font-style="italic" font-size="16">C</text>
<text stroke="#000" stroke-width="0.20" x="510.1" y="502.5" font-family="Liberation Sans" font-style="italic" font-size="15.5">k</text>
<text stroke="#000" stroke-width="0.20" x="518" y="497.2" font-family="Liberation Sans" font-style="italic" font-size="15.5">B</text>
<path d="M575.3,602.2 C582.8,601.2 607.5,598.1 620.0,596.0 C632.5,593.9 642.3,591.7 650.0,589.5 C657.7,587.3 660.9,585.5 666.4,583.0 C671.9,580.5 677.3,578.3 682.7,574.8 C688.1,571.2 694.1,566.3 699.0,561.7 C703.9,557.1 708.1,552.2 712.2,547.0 C716.3,541.8 720.9,535.8 723.7,530.6 C726.5,525.4 728.1,518.4 729.0,516.0" fill="none" stroke="#000" stroke-width="1.1" stroke-dasharray="8,5"/>
<path d="M0,0 L-13.0,-4.5 Q-7.2,0 -13.0,4.5 Z" fill="#000" transform="translate(734.8,499.1) rotate(-70.9)"/>
<circle cx="543.5" cy="621.0" r="1.5" fill="#111"/>
<circle cx="545.8" cy="621.0" r="1.5" fill="#111"/>
<circle cx="548.1" cy="621.0" r="1.5" fill="#111"/>
<circle cx="550.4" cy="621.0" r="1.5" fill="#111"/>
<circle cx="552.7" cy="621.0" r="1.5" fill="#111"/>
<circle cx="555.0" cy="621.0" r="1.5" fill="#111"/>
<circle cx="557.3" cy="620.9" r="1.5" fill="#111"/>
<circle cx="559.6" cy="620.9" r="1.5" fill="#111"/>
<circle cx="561.9" cy="620.9" r="1.5" fill="#111"/>
<circle cx="564.2" cy="620.9" r="1.5" fill="#111"/>
<circle cx="566.5" cy="620.8" r="1.5" fill="#111"/>
<circle cx="568.8" cy="620.8" r="1.5" fill="#111"/>
<circle cx="571.1" cy="620.8" r="1.5" fill="#111"/>
<circle cx="573.4" cy="620.7" r="1.5" fill="#111"/>
<circle cx="575.7" cy="620.7" r="1.5" fill="#111"/>
<circle cx="578.0" cy="620.6" r="1.5" fill="#111"/>
<circle cx="580.3" cy="620.6" r="1.5" fill="#111"/>
<circle cx="582.6" cy="620.5" r="1.5" fill="#111"/>
<circle cx="584.9" cy="620.5" r="1.5" fill="#111"/>
<circle cx="587.2" cy="620.4" r="1.5" fill="#111"/>
<circle cx="589.5" cy="620.3" r="1.5" fill="#111"/>
<circle cx="591.8" cy="620.3" r="1.5" fill="#111"/>
<circle cx="594.1" cy="620.2" r="1.5" fill="#111"/>
<circle cx="596.4" cy="620.1" r="1.5" fill="#111"/>
<circle cx="598.7" cy="620.1" r="1.5" fill="#111"/>
<circle cx="601.0" cy="620.0" r="1.5" fill="#111"/>
<circle cx="603.3" cy="619.9" r="1.5" fill="#111"/>
<circle cx="605.6" cy="619.8" r="1.5" fill="#111"/>
<circle cx="607.9" cy="619.7" r="1.5" fill="#111"/>
<circle cx="610.2" cy="619.6" r="1.5" fill="#111"/>
<circle cx="612.5" cy="619.5" r="1.5" fill="#111"/>
<circle cx="614.8" cy="619.4" r="1.5" fill="#111"/>
<circle cx="617.1" cy="619.3" r="1.5" fill="#111"/>
<circle cx="619.4" cy="619.2" r="1.5" fill="#111"/>
<circle cx="621.7" cy="619.1" r="1.5" fill="#111"/>
<circle cx="624.0" cy="619.0" r="1.5" fill="#111"/>
<circle cx="626.3" cy="618.9" r="1.5" fill="#111"/>
<circle cx="628.6" cy="618.8" r="1.5" fill="#111"/>
<circle cx="630.9" cy="618.6" r="1.5" fill="#111"/>
<circle cx="633.2" cy="618.5" r="1.5" fill="#111"/>
<circle cx="635.5" cy="618.4" r="1.5" fill="#111"/>
<circle cx="637.8" cy="618.3" r="1.5" fill="#111"/>
<circle cx="640.1" cy="618.1" r="1.5" fill="#111"/>
<circle cx="642.4" cy="618.0" r="1.5" fill="#111"/>
<circle cx="644.7" cy="617.8" r="1.5" fill="#111"/>
<circle cx="647.0" cy="617.7" r="1.5" fill="#111"/>
<circle cx="649.3" cy="617.5" r="1.5" fill="#111"/>
<circle cx="650.0" cy="617.3" r="1.5" fill="#111"/>
<circle cx="653.3" cy="617.3" r="1.5" fill="#111"/>
<circle cx="656.5" cy="616.5" r="1.5" fill="#111"/>
<circle cx="659.0" cy="615.7" r="1.5" fill="#111"/>
<circle cx="661.5" cy="616.2" r="1.5" fill="#111"/>
<circle cx="663.9" cy="616.5" r="1.5" fill="#111"/>
<circle cx="666.4" cy="615.7" r="1.5" fill="#111"/>
<circle cx="668.8" cy="616.2" r="1.5" fill="#111"/>
<circle cx="671.3" cy="615.4" r="1.5" fill="#111"/>
<circle cx="673.7" cy="614.6" r="1.5" fill="#111"/>
<circle cx="676.2" cy="613.7" r="1.5" fill="#111"/>
<circle cx="678.7" cy="612.4" r="1.5" fill="#111"/>
<circle cx="681.1" cy="611.3" r="1.5" fill="#111"/>
<circle cx="683.6" cy="610.1" r="1.5" fill="#111"/>
<circle cx="686.0" cy="609.2" r="1.5" fill="#111"/>
<circle cx="688.5" cy="607.2" r="1.5" fill="#111"/>
<circle cx="690.9" cy="605.1" r="1.5" fill="#111"/>
<circle cx="693.4" cy="603.9" r="1.5" fill="#111"/>
<circle cx="695.8" cy="602.3" r="1.5" fill="#111"/>
<circle cx="698.3" cy="600.2" r="1.5" fill="#111"/>
<circle cx="700.8" cy="599.3" r="1.5" fill="#111"/>
<circle cx="703.2" cy="602.6" r="1.5" fill="#111"/>
<circle cx="704.8" cy="599.3" r="1.5" fill="#111"/>
<circle cx="707.3" cy="599.8" r="1.5" fill="#111"/>
<circle cx="709.8" cy="600.2" r="1.5" fill="#111"/>
<circle cx="712.2" cy="596.1" r="1.5" fill="#111"/>
<circle cx="714.7" cy="592.0" r="1.5" fill="#111"/>
<circle cx="716.3" cy="585.4" r="1.5" fill="#111"/>
<circle cx="718.8" cy="582.6" r="1.5" fill="#111"/>
<circle cx="721.2" cy="588.2" r="1.5" fill="#111"/>
<circle cx="723.7" cy="585.4" r="1.5" fill="#111"/>
<circle cx="726.1" cy="582.6" r="1.5" fill="#111"/>
<circle cx="728.3" cy="583.8" r="1.5" fill="#111"/>
<circle cx="730.2" cy="578.9" r="1.5" fill="#111"/>
<circle cx="732.7" cy="585.4" r="1.5" fill="#111"/>
<circle cx="734.8" cy="583.0" r="1.5" fill="#111"/>
<circle cx="737.6" cy="580.2" r="1.5" fill="#111"/>
<circle cx="739.7" cy="572.3" r="1.5" fill="#111"/>
<circle cx="741.7" cy="568.2" r="1.5" fill="#111"/>
<circle cx="744.1" cy="559.2" r="1.5" fill="#111"/>
<circle cx="746.3" cy="543.2" r="1.5" fill="#111"/>
<circle cx="749.1" cy="537.9" r="1.5" fill="#111"/>
<circle cx="751.5" cy="533.9" r="1.5" fill="#111"/>
<circle cx="753.5" cy="523.5" r="1.5" fill="#111"/>
<circle cx="755.6" cy="506.0" r="1.5" fill="#111"/>
<circle cx="757.6" cy="498.7" r="1.5" fill="#111"/>
<circle cx="760.5" cy="506.3" r="1.5" fill="#111"/>
<circle cx="763.0" cy="528.4" r="1.5" fill="#111"/>
<circle cx="765.1" cy="521.2" r="1.5" fill="#111"/>
<circle cx="767.1" cy="505.2" r="1.5" fill="#111"/>
<circle cx="769.5" cy="498.2" r="1.5" fill="#111"/>
<circle cx="772.0" cy="481.8" r="1.5" fill="#111"/>
</svg>
</body></html>
